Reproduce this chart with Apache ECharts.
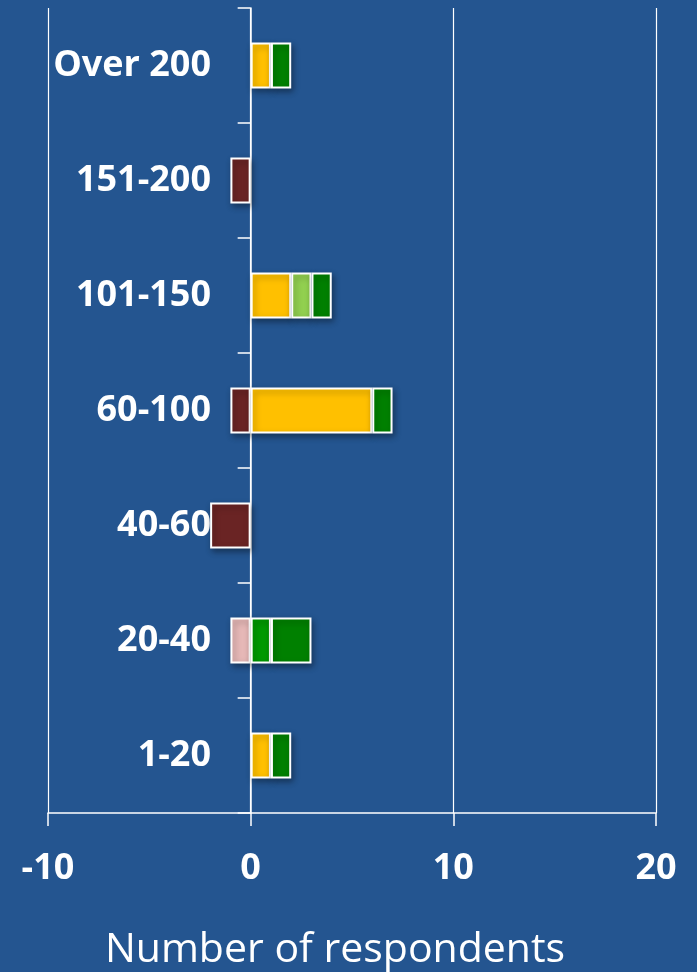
<!DOCTYPE html>
<html>
<head>
<meta charset="utf-8">
<script src="https://cdn.jsdelivr.net/npm/echarts@6/dist/echarts.min.js"></script>
<style>
  html, body { margin: 0; padding: 0; background: #245590; }
  #chart { width: 697px; height: 972px; }
</style>
</head>
<body>
<div id="chart"></div>
<script>
// categories, bottom to top
const categories = ["1-20", "20-40", "40-60", "60-100", "101-150", "151-200", "Over 200"];
const xTicks = [-10, 0, 10, 20];

// series values (negatives drawn left of zero)
const brownData = [0, 0, -2, -1, 0, -1, 0];
const pinkData = [0, -1, 0, 0, 0, 0, 0];
const yellowData = [1, 0, 0, 6, 2, 0, 1];
const lightGreenData = [0, 0, 0, 0, 1, 0, 0];
const greenData = [0, 1, 0, 0, 0, 0, 0];
const darkGreenData = [1, 2, 0, 1, 1, 0, 1];

const chart = echarts.init(document.getElementById("chart"));

const makeSeries = (name, data, color) => ({
  name,
  type: "bar",
  stack: "total",
  barWidth: 46,
  data: data.map((v) => (v === 0 ? null : v)),
  itemStyle: {
    color,
    borderColor: "#ffffff",
    borderWidth: 2,
    shadowColor: "rgba(0,0,0,0.35)",
    shadowBlur: 6,
    shadowOffsetX: 2,
    shadowOffsetY: 3,
  },
});

const option = {
  backgroundColor: "#245590",
  animation: false,
  grid: {
    left: 48,
    right: 41,
    top: 8,
    bottom: 159,
    containLabel: false,
    outerBoundsMode: "none",
  },
  xAxis: {
    type: "value",
    min: xTicks[0],
    max: xTicks[xTicks.length - 1],
    interval: 10,
    name: "Number of respondents",
    nameLocation: "middle",
    nameGap: 117,
    nameTextStyle: {
      color: "#ffffff",
      fontSize: 41,
      fontFamily: "Open Sans",
      padding: [0, 34, 0, 0],
    },
    axisLine: { show: true, onZero: false, lineStyle: { color: "#ffffff", width: 1.5 } },
    axisTick: { show: true, length: 13, lineStyle: { color: "#ffffff", width: 1.5 } },
    axisLabel: {
      color: "#ffffff",
      fontSize: 36,
      fontWeight: "bold",
      fontFamily: "Open Sans",
      margin: 38,
    },
    splitLine: { show: true, lineStyle: { color: "#ffffff", width: 1.2 } },
  },
  yAxis: {
    type: "category",
    data: categories,
    axisLine: { show: true, onZero: true, lineStyle: { color: "#ffffff", width: 1.5 } },
    axisTick: { show: true, length: 13, lineStyle: { color: "#ffffff", width: 1.5 } },
    axisLabel: {
      color: "#ffffff",
      fontSize: 36,
      fontWeight: "bold",
      fontFamily: "Open Sans",
      margin: -163,
      padding: [4, 0, 0, 0],
    },
  },
  series: [
    makeSeries("Brown", brownData, "#6A2424"),
    makeSeries("Pink", pinkData, "#E6B8B7"),
    makeSeries("Yellow", yellowData, "#FFC000"),
    makeSeries("Light green", lightGreenData, "#92D050"),
    makeSeries("Green", greenData, "#009900"),
    makeSeries("Dark green", darkGreenData, "#008000"),
  ],
};

chart.setOption(option);
window.addEventListener("resize", () => chart.resize());
</script>
</body>
</html>
